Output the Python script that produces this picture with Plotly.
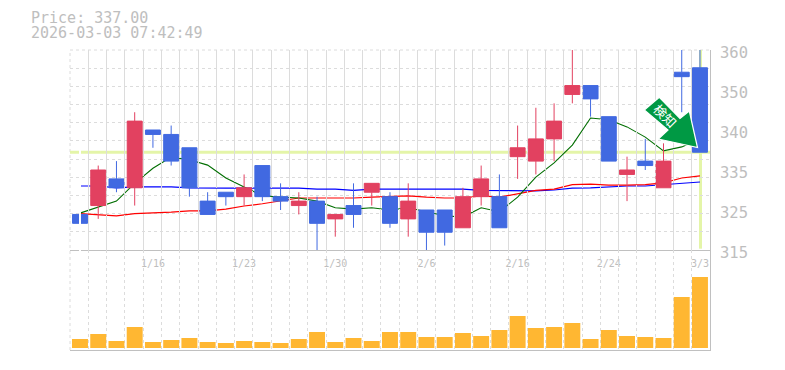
import plotly.graph_objects as go

TITLE_LINES = ["Price: 337.00", "2026-03-03 07:42:49"]
LAST_PRICE = 337.0

# One entry per session; only some dates are labelled
index = list(range(35))
label_idx = [4, 9, 14, 19, 24, 29, 34]
label_txt = ["1/16", "1/23", "1/30", "2/6", "2/16", "2/24", "3/3"]

opens  = [323,325,331,329,342,341,338,326,328,327,334,327,325,326,322,325,328,327,322,324,324,320,327,327,336,335,340,350,352,345,332,335,329,355,356]
closes = [321,333,329,344,341,335,329,323,327,329,327,326,326,321,323,323,330,321,326,319,319,327,331,320,338,340,344,352,349,335,333,334,335,354,337]
highs  = [323,334,335,346,342,343,338,328,328,332,334,330,328,327,323,330,330,328,330,324,324,329,334,332,343,347,348,362,352,345,336,340,339,362,363]
lows   = [318,322,328,325,338,334,327,323,325,325,326,324,323,315,318,320,325,320,318,315,316,320,325,320,331,332,335,348,345,335,326,333,329,346,337]

ma_green = [323.3,324.7,326.0,330.0,333.4,335.9,335.3,334.1,331.2,329.2,327.2,326.9,326.7,326.0,324.5,324.2,324.5,324.0,324.5,323.6,322.7,322.4,324.5,323.6,326.9,331.4,334.6,338.6,344.7,344.3,342.7,340.4,337.3,338.2,340.0]
ma_red   = [323.2,322.9,322.7,323.2,323.3,323.5,323.8,323.8,324.2,324.9,325.4,326.1,326.7,326.7,326.7,326.7,326.9,327.0,327.2,326.9,326.7,326.7,327.2,326.9,327.6,328.4,328.7,329.7,329.8,329.6,329.6,329.7,330.1,331.2,331.7]
ma_blue  = [329.4,329.4,329.0,329.2,329.2,329.2,329.0,328.9,328.9,328.9,328.9,328.9,328.9,328.7,328.7,328.4,328.7,328.7,328.7,328.7,328.7,328.7,328.4,328.4,328.3,328.3,328.5,328.9,329.0,329.2,329.4,329.4,329.7,330.1,330.3]

volume = [9,14,7,21,6,8,10,6,5,7,6,5,9,16,6,10,7,16,16,11,11,15,12,18,32,20,21,25,9,18,12,11,10,51,71]

price_ticks = [360, 351, 342, 333, 324, 315]
price_tick_text = ["360", "350", "340", "335", "325", "315"]

C_UP, C_DOWN, C_VOL = "#E24160", "#4169E1", "#FFB732"
C_GRID, C_AXIS, C_TEXT = "#DCDCDC", "#C0C0C0", "#BEBEBE"
C_LAST = "#E4F5A8"
MONO = "DejaVu Sans Mono"

PAGE = 8  # page margin around the figure
W, H = 785, 370
L, R, T, B = 70, 710, 50, 350
XR = [-0.548, 34.55]
YR = [315, 360]
grid_x = [XR[0] + (XR[1] - XR[0]) * k / 35 for k in range(36)]
grid_y = [YR[0] + (YR[1] - YR[0]) * k / 11 for k in range(12)]

def grid():
    return dict(showgrid=True, gridcolor=C_GRID, griddash="3px,3px", gridwidth=1)

fig = go.Figure()
fig.add_scatter(x=index, y=ma_blue, mode="lines", line=dict(color="#0000FF", width=1.2), xaxis="x", yaxis="y", showlegend=False)
fig.add_scatter(x=index, y=ma_red, mode="lines", line=dict(color="#FF0000", width=1.2), xaxis="x", yaxis="y", showlegend=False)
fig.add_scatter(x=index, y=ma_green, mode="lines", line=dict(color="#006E00", width=1.1), xaxis="x", yaxis="y", showlegend=False)
fig.add_candlestick(
    x=index, open=opens, high=highs, low=lows, close=closes, xaxis="x", yaxis="y3",
    increasing=dict(line=dict(color=C_UP, width=1), fillcolor=C_UP),
    decreasing=dict(line=dict(color=C_DOWN, width=1), fillcolor=C_DOWN),
    whiskerwidth=0, showlegend=False,
)
fig.add_bar(x=index, y=volume, width=0.875, marker=dict(color=C_VOL, line=dict(width=0)), xaxis="x2", yaxis="y2", showlegend=False)
# invisible carrier for the label axis
fig.add_scatter(x=[index[0]], y=[LAST_PRICE], mode="none", xaxis="x", yaxis="y4", showlegend=False, hoverinfo="skip")

# Arrow badge
arrow = "M 644.3 110 L 659.3 97.3 L 680 118.5 L 689.3 111 L 697.5 147.5 L 658.3 139 L 668 130 Z"
edge = dict(color=C_GRID, width=1, dash="3px,3px")
shapes = [
    dict(type="line", xref="paper", yref="paper", x0=0, x1=0, y0=0, y1=1, line=edge, layer="below"),
    dict(type="line", xref="paper", yref="paper", x0=0, x1=1, y0=1, y1=1, line=edge, layer="below"),
    dict(type="line", xref="paper", yref="y", x0=0, x1=1, y0=LAST_PRICE, y1=LAST_PRICE, line=dict(color=C_LAST, width=3), layer="below"),
    dict(type="line", xref="x", yref="y", x0=index[-1] + 0.03, x1=index[-1] + 0.03, y0=315.3, y1=360, line=dict(color=C_LAST, width=3), layer="below"),
    dict(type="path", xref="paper", yref="paper", layer="above",
         path=" ".join(
             (f"{(float(t) - L) / (R - L):.5f}" if i % 3 == 1 else f"{(B - float(t)) / (B - T):.5f}" if i % 3 == 2 else t)
             for i, t in enumerate(arrow.split())
         ),
         fillcolor="#009944", line=dict(color="#FFFFFF", width=1.2)),
]

annotations = [
    dict(xref="paper", yref="paper", x=(28.5 - L) / (R - L), y=(B - 18) / (B - T), text=TITLE_LINES[0], showarrow=False, xanchor="left", yanchor="middle",
         font=dict(family=MONO, size=15, color=C_TEXT)),
    dict(xref="paper", yref="paper", x=(28.5 - L) / (R - L), y=(B - 33) / (B - T), text=TITLE_LINES[1], showarrow=False, xanchor="left", yanchor="middle",
         font=dict(family=MONO, size=15, color=C_TEXT)),
    dict(xref="paper", yref="paper", x=(665 - L) / (R - L), y=(B - 116) / (B - T), text="検知", showarrow=False, textangle=45,
         xanchor="center", yanchor="middle",
         font=dict(family="Noto Sans CJK JP", size=13, color="#FFFFFF")),
]

fig.update_layout(
    width=W - PAGE, height=H - PAGE, autosize=False,
    margin=dict(l=L - PAGE, r=W - R, t=T - PAGE, b=H - B, pad=0),
    paper_bgcolor="white", plot_bgcolor="rgba(0,0,0,0)",
    showlegend=False, boxgap=0.18, boxgroupgap=0, hovermode=False,
    shapes=shapes, annotations=annotations,
    xaxis=dict(domain=[0, 1], range=XR, anchor="y", tickmode="array", tickvals=label_idx, ticktext=label_txt,
               showgrid=False, ticks="", showline=True, linecolor=C_AXIS, linewidth=1,
               tickfont=dict(family=MONO, size=10, color=C_TEXT), ticklabelstandoff=4,
               rangeslider=dict(visible=False),
               minor=dict(tickmode="array", tickvals=grid_x, ticks="", **grid())),
    xaxis2=dict(domain=[0, 1], range=XR, anchor="y2", showticklabels=False, ticks="", showgrid=False,
                showline=True, linecolor=C_AXIS, linewidth=1, tickmode="array", tickvals=[],
                minor=dict(tickmode="array", tickvals=grid_x, ticks="", **grid())),
    yaxis=dict(domain=[1 / 3, 1], range=YR, anchor="x", side="right", tickmode="array", tickvals=grid_y,
               showticklabels=False, ticks="", showline=True, linecolor=C_AXIS, linewidth=1, zeroline=False, **grid()),
    yaxis2=dict(domain=[0, 1 / 3], range=[-2, 98], anchor="x2", side="right", showticklabels=False, ticks="",
                showgrid=False, showline=True, linecolor=C_AXIS, linewidth=1, zeroline=False),
    yaxis3=dict(range=YR, overlaying="y", side="right", visible=False, anchor="x"),
    yaxis4=dict(domain=[(B - 253) / (B - T), (B - 53) / (B - T)], range=YR, anchor="free", position=1, side="right",
                tickmode="array", tickvals=price_ticks, ticktext=price_tick_text, showgrid=False, ticks="",
                showline=False, zeroline=False, tickfont=dict(family=MONO, size=15.5, color=C_TEXT), ticklabelstandoff=9),
)

fig.write_html("out.html")
